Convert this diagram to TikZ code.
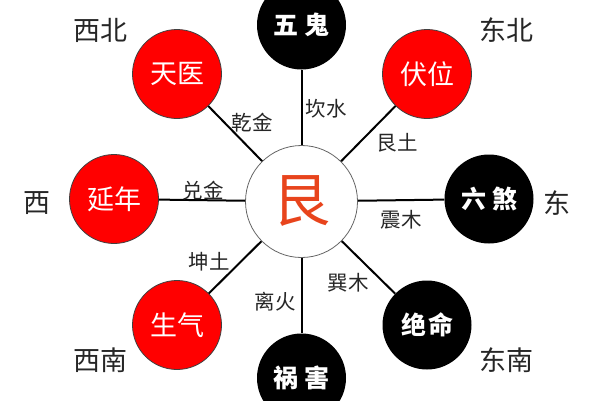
\documentclass[tikz,border=0pt]{standalone}
\usepackage{fontspec}
\newfontfamily\cjk{Noto Sans CJK SC}
\definecolor{genred}{RGB}{232,68,28}

\tikzset{
  gong/.style = {circle , draw = black!75 , line width = 0.8pt , fill = red , text = white ,
    minimum size = 89pt , inner sep = 0pt , font = \cjk\fontsize{27}{27}\selectfont},
  xiong/.style = {circle , fill = black , text = white ,
    minimum size = 89pt , inner sep = 0pt , font = \cjk\bfseries\fontsize{25}{25}\selectfont},
  fang/.style = {text = black!85 , font = \cjk\fontsize{27}{27}\selectfont},
  gua/.style = {text = black!85 , font = \cjk\fontsize{20.5}{20.5}\selectfont},
  xian/.style = {line width = 2pt , black}
}

\begin{document}
\begin{tikzpicture}[x = 1pt , y = -1pt]
    \useasboundingbox[fill = white] (0,0) rectangle (600,400);
    % 中宫
    \node[circle , draw = black!60 , line width = 0.8pt , fill = white , minimum size = 112pt ,
      inner sep = 0pt , text = genred , font = \cjk\fontsize{58}{58}\selectfont] (gen) at (301.5,201.5) {艮};
    % 八宅
    \node[xiong] (wugui) at (301.5,25) {五\hspace{6pt}鬼};
    \node[gong] (fuwei) at (427,74) {伏位};
    \node[xiong] (liusha) at (489,199) {六\hspace{6pt}煞};
    \node[xiong] (jueming) at (427,325) {绝\hspace{2pt}命};
    \node[xiong] (huohai) at (301.5,378) {祸\hspace{6pt}害};
    \node[gong] (shengqi) at (177,325) {生气};
    \node[gong] (yannian) at (114,199) {延年};
    \node[gong] (tianyi) at (177,74) {天医};
    % 连线
    \foreach \zhai in {wugui,fuwei,liusha,jueming,huohai,shengqi,yannian,tianyi}
        \draw[xian] (gen) -- (\zhai);
    % 方位
    \node[fang] (xibei) at (100,30) {西北};
    \node[fang] (dongbei) at (506,30) {东北};
    \node[fang] (xi) at (37,203) {西};
    \node[fang] (dong) at (557,203) {东};
    \node[fang] (xinan) at (100,360) {西南};
    \node[fang] (dongnan) at (506,360) {东南};
    % 卦名
    \node[gua] (qian) at (252,123) {乾金};
    \node[gua] (kan) at (326,109) {坎水};
    \node[gua] (gentu) at (397,143) {艮土};
    \node[gua] (dui) at (203,191) {兑金};
    \node[gua] (zhen) at (401,220) {震木};
    \node[gua] (kun) at (209,262) {坤土};
    \node[gua] (xun) at (348,283) {巽木};
    \node[gua] (li) at (275,302) {离火};
\end{tikzpicture}
\end{document}
